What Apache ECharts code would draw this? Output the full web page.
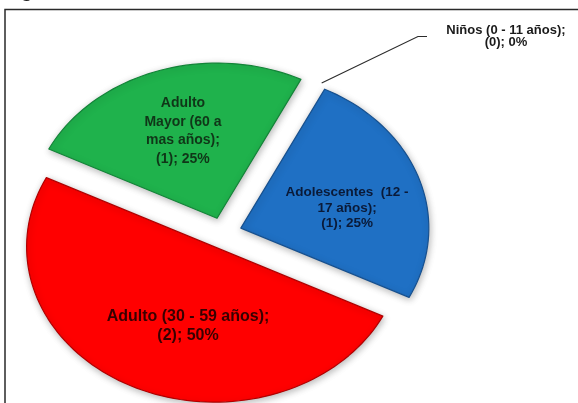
<!DOCTYPE html>
<html>
<head>
<meta charset="utf-8">
<script src="https://cdn.jsdelivr.net/npm/echarts@6.0.0/dist/echarts.min.js"></script>
<style>
  html, body { margin: 0; padding: 0; background: #ffffff; }
  #chart { width: 578px; height: 403px; }
</style>
</head>
<body>
<div id="chart"></div>
<script>
// Age groups (line breaks follow the label layout) and number of people in each
const categories = [
  'Niños (0 - 11 años)',
  'Adolescentes  (12 -\n17 años)',
  'Adulto (30 - 59 años)',
  'Adulto\nMayor (60 a\nmas años)'
];
const counts = [0, 1, 2, 1];

// Slice appearance
const sliceColors = ['#7f7f7f', '#1f70c4', '#ff0000', '#1fb24c'];
const sliceEdges = ['#555555', '#16508f', '#b00000', '#138438'];
const labelColors = ['#1a1a1a', '#0a1a38', '#380000', '#103618'];
const labelSizes = [13, 13.5, 16, 14];
const labelLineHeights = [12.5, 15.5, 19, 18.5];
// label anchors in pie units (x to the right, y upward, measured from the pie centre)
const labelAnchors = [[1.505, 1.266], [0.660, 0.161], [-0.186, -0.599], [-0.213, 0.657]];
// leader line for the empty slice: bend and end points in pie units
const leaderBend = [1.037, 1.266];
const leaderEnd = [1.085, 1.266];

// Tilted pie: circle of radius 1 drawn on axes with different pixel scales
const W = 578, H = 403;
const PIE = { cx: 223, cy: 233, rx: 188, ry: 155.2, startAngle: 26.5, explode: 0.1 };
const xMin = -PIE.cx / PIE.rx, xMax = (W - PIE.cx) / PIE.rx;
const yMax = PIE.cy / PIE.ry, yMin = -(H - PIE.cy) / PIE.ry;

const total = counts.reduce((s, v) => s + v, 0);
const startAngles = [];
let acc = 0;
counts.forEach(v => { startAngles.push(PIE.startAngle + 360 * acc / total); acc += v; });

const rad = d => d * Math.PI / 180;
const polar = (deg, r) => [r * Math.sin(rad(deg)), r * Math.cos(rad(deg))];

function labelText(i) {
  return categories[i] + ';\n(' + counts[i] + '); ' + Math.round(counts[i] / total * 100) + '%';
}

function renderItem(params, api) {
  const i = params.dataIndex;
  const value = api.value(1);
  const a0 = startAngles[i];
  const sweep = 360 * value / total;
  const mid = a0 + sweep / 2;
  const off = polar(mid, PIE.explode);
  const children = [];
  const font = 'bold ' + labelSizes[i] + 'px "Liberation Sans", Arial, sans-serif';
  const anchor = api.coord(labelAnchors[i]);

  if (value > 0) {
    const pts = [api.coord(off)];
    const steps = Math.max(8, Math.round(sweep / 2));
    for (let k = 0; k <= steps; k++) {
      const p = polar(a0 + sweep * k / steps, 1);
      pts.push(api.coord([off[0] + p[0], off[1] + p[1]]));
    }
    children.push({
      type: 'polygon',
      shape: { points: pts },
      style: {
        fill: sliceColors[i],
        stroke: sliceEdges[i],
        lineWidth: 1.2,
        lineJoin: 'round',
        shadowBlur: 7,
        shadowColor: 'rgba(0,0,0,0.28)',
        shadowOffsetX: 1,
        shadowOffsetY: 2
      }
    });
  } else {
    // empty slice: leader line from the pie rim out to its label
    const s = polar(a0 + 2, 1 + PIE.explode);
    children.push({
      type: 'polyline',
      shape: { points: [api.coord(s), api.coord(leaderBend), api.coord(leaderEnd)] },
      style: { stroke: '#2b2b2b', lineWidth: 1.1, fill: null }
    });
  }

  children.push({
    type: 'text',
    style: {
      text: labelText(i),
      x: anchor[0],
      y: anchor[1],
      align: 'center',
      verticalAlign: 'middle',
      font: font,
      lineHeight: labelLineHeights[i],
      fill: labelColors[i]
    },
    z2: 10
  });
  return { type: 'group', children: children };
}

const chart = echarts.init(document.getElementById('chart'), null, { renderer: 'canvas' });
chart.setOption({
  backgroundColor: '#ffffff',
  animation: false,
  grid: { left: 0, right: 0, top: 0, bottom: 0, containLabel: false },
  xAxis: { type: 'value', min: xMin, max: xMax, show: false },
  yAxis: { type: 'value', min: yMin, max: yMax, show: false },
  graphic: [
    {
      type: 'text',
      left: 3,
      top: -19,
      style: { text: 'Figura', font: 'bold 20px "Liberation Sans", Arial, sans-serif', fill: '#1a1a1a' }
    },
    {
      type: 'rect',
      shape: { x: 5, y: 9.5, width: 640, height: 460 },
      style: { fill: null, stroke: '#2a2a2a', lineWidth: 1.5 }
    }
  ],
  series: [{
    type: 'custom',
    coordinateSystem: 'cartesian2d',
    renderItem: renderItem,
    data: counts.map((v, i) => [i, v]),
    clip: false
  }]
});
</script>
</body>
</html>
